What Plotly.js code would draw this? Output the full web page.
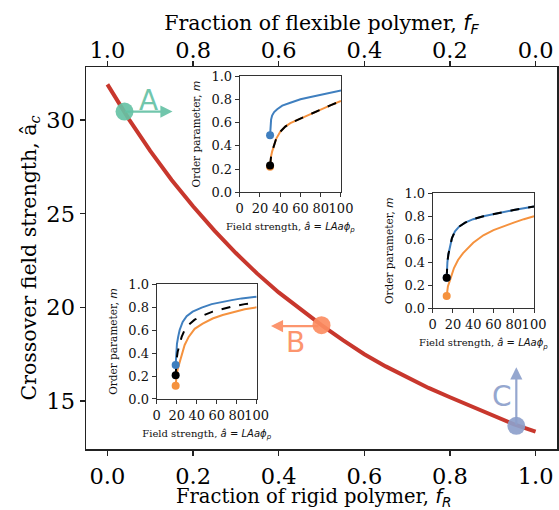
<!DOCTYPE html>
<html>
<head>
<meta charset="utf-8">
<script src="https://cdn.plot.ly/plotly-3.0.1.min.js"></script>
<style>html,body{margin:0;padding:0;background:#fff;}#chart{width:559px;height:510px;}</style>
</head>
<body>
<div id="chart"></div>
<script>
// Main curve: crossover field strength vs fraction of rigid polymer
const fR = [0, 0.05, 0.1, 0.15, 0.2, 0.25, 0.3, 0.35, 0.4, 0.45, 0.5, 0.55, 0.6, 0.65, 0.7, 0.75, 0.8, 0.85, 0.9, 0.95, 1.0];
const aC = [31.9, 30.05, 28.35, 26.8, 25.4, 24.1, 22.9, 21.8, 20.8, 19.9, 19.05, 18.25, 17.5, 16.85, 16.25, 15.7, 15.2, 14.7, 14.25, 13.75, 13.37];

// Highlighted points A, B, C
const ptLabels = ['A', 'B', 'C'];
const ptFR = [0.04, 0.5, 0.955];
const ptAC = [30.45, 19.05, 13.68];

// Inset A (top)
const aBlueX = [30, 30.2, 30.5, 31, 32, 34, 37, 42, 50, 60, 70, 80, 90, 100];
const aBlueY = [0.49, 0.55, 0.59, 0.625, 0.66, 0.69, 0.715, 0.745, 0.77, 0.8, 0.82, 0.84, 0.86, 0.875];
const aOrangeX = [30, 30.3, 31, 32, 33.5, 36, 40, 45, 50, 60, 70, 80, 90, 100];
const aOrangeY = [0.22, 0.27, 0.31, 0.35, 0.40, 0.46, 0.52, 0.565, 0.595, 0.635, 0.675, 0.71, 0.75, 0.785];
const aBlackX = aOrangeX;
const aBlackY = [0.23, 0.27, 0.31, 0.35, 0.40, 0.46, 0.52, 0.565, 0.595, 0.635, 0.675, 0.71, 0.75, 0.785];

// Inset B (left)
const bBlueX = [19, 19.2, 19.6, 20.3, 21.5, 23, 26, 30, 36, 45, 55, 65, 75, 85, 100];
const bBlueY = [0.296, 0.36, 0.42, 0.48, 0.54, 0.6, 0.67, 0.72, 0.76, 0.795, 0.825, 0.845, 0.86, 0.875, 0.89];
const bBlackX = [19, 19.3, 20, 21, 22.5, 25, 28, 32, 38, 46, 56, 66, 76, 88, 100];
const bBlackY = [0.206, 0.28, 0.35, 0.41, 0.47, 0.54, 0.6, 0.645, 0.69, 0.725, 0.76, 0.785, 0.805, 0.825, 0.84];
const bOrangeX = [19, 19.4, 20, 21, 22.5, 25, 28, 32, 38, 46, 56, 66, 76, 88, 100];
const bOrangeY = [0.116, 0.17, 0.21, 0.26, 0.31, 0.39, 0.47, 0.54, 0.61, 0.655, 0.70, 0.73, 0.755, 0.78, 0.797];

// Inset C (right)
const cBlueX = [13.8, 14, 14.5, 15.5, 17, 19, 22, 26, 32, 40, 50, 60, 70, 80, 90, 100];
const cBlueY = [0.266, 0.33, 0.4, 0.47, 0.54, 0.61, 0.67, 0.71, 0.745, 0.775, 0.8, 0.82, 0.84, 0.855, 0.87, 0.885];
const cBlackX = cBlueX;
const cBlackY = cBlueY;
const cOrangeX = [13.8, 14.2, 15, 16.5, 18.5, 21, 25, 30, 40, 50, 60, 70, 80, 90, 100];
const cOrangeY = [0.107, 0.15, 0.19, 0.23, 0.29, 0.35, 0.42, 0.48, 0.57, 0.635, 0.68, 0.715, 0.745, 0.775, 0.80];

const ticksMain = [0, 0.2, 0.4, 0.6, 0.8, 1.0];
const ticksY = [15, 20, 25, 30];
const ticksInsetX = [0, 20, 40, 60, 80, 100];
const ticksInsetY = [0, 0.2, 0.4, 0.6, 0.8, 1.0];

const RED = '#c8372d';
const SET2 = ['#66c2a5', '#fc8d62', '#8da0cb'];
const BLUE = '#3f7fbf';
const ORANGE = '#f5923e';

const traces = [];
traces.push({x: fR, y: aC, xaxis: 'x', yaxis: 'y', mode: 'lines', line: {color: RED, width: 4}, hoverinfo: 'skip'});
traces.push({x: fR.map(v => 1 - v), y: aC, xaxis: 'x2', yaxis: 'y', mode: 'markers', marker: {opacity: 0}, hoverinfo: 'skip'});
traces.push({x: ptFR, y: ptAC, xaxis: 'x', yaxis: 'y', mode: 'markers', marker: {color: SET2, size: 18, opacity: 0.92}, hoverinfo: 'skip'});

function inset(ax, series) {
  series.forEach(s => {
    traces.push({x: s.x, y: s.y, xaxis: 'x' + ax, yaxis: 'y' + ax, mode: 'lines',
      line: {color: s.c, width: 2, dash: s.dash || 'solid'}, hoverinfo: 'skip'});
  });
  series.forEach(s => {
    traces.push({x: [s.x[0]], y: [s.y[0]], xaxis: 'x' + ax, yaxis: 'y' + ax, mode: 'markers',
      marker: {color: s.c, size: 8}, hoverinfo: 'skip'});
  });
}
inset(3, [
  {x: aBlueX, y: aBlueY, c: BLUE},
  {x: aOrangeX, y: aOrangeY, c: ORANGE},
  {x: aBlackX, y: aBlackY, c: '#000', dash: 'dash'}
]);
inset(4, [
  {x: bBlueX, y: bBlueY, c: BLUE},
  {x: bOrangeX, y: bOrangeY, c: ORANGE},
  {x: bBlackX, y: bBlackY, c: '#000', dash: 'dash'}
]);
inset(5, [
  {x: cBlueX, y: cBlueY, c: BLUE},
  {x: cOrangeX, y: cOrangeY, c: ORANGE},
  {x: cBlackX, y: cBlackY, c: '#000', dash: 'dash'}
]);

const SERIF = 'DejaVu Serif';
const MATH = 'DejaVu Sans';

function insetAxes(dx, dy, anchorX, anchorY) {
  const common = {showgrid: false, zeroline: false, showline: true, mirror: true, linecolor: '#333', linewidth: 1,
    ticks: 'outside', ticklen: 4, tickwidth: 1, tickcolor: '#333', tickfont: {size: 13, family: SERIF, color: '#111'}, tickangle: 0};
  return [
    Object.assign({}, common, {domain: dx, anchor: anchorY, range: [0, 100], tickvals: ticksInsetX,
      title: {text: 'Field strength, <span style="font-family:' + MATH + '"><i>â</i> = <i>LAaϕ</i><sub><i>p</i></sub></span>', font: {size: 10, family: SERIF, color: '#111'}, standoff: 8}}),
    Object.assign({}, common, {domain: dy, anchor: anchorX, range: [0, 1], tickvals: ticksInsetY, tickformat: '.1f',
      title: {text: 'Order parameter, <span style="font-family:' + MATH + '"><i>m</i></span>', font: {size: 10.5, family: SERIF, color: '#111'}, standoff: 8}})
  ];
}
const [x3, y3] = insetAxes([0.3263, 0.5414], [0.672, 0.9764], 'x3', 'y3');
const [x4, y4] = insetAxes([0.150, 0.3624], [0.1309, 0.4319], 'x4', 'y4');
const [x5, y5] = insetAxes([0.7361, 0.9512], [0.3683, 0.6694], 'x5', 'y5');

const arrowSpecs = [
  {tipX: 0.152, tipY: 30.45, ax: -49, ay: 0, tx: 0.095, ty: 31.05},
  {tipX: 0.382, tipY: 19.0, ax: 49, ay: 0, tx: 0.44, ty: 18.1},
  {tipX: 0.955, tipY: 16.8, ax: 0, ay: 59, tx: 0.921, ty: 15.25}
];
const annotations = [];
arrowSpecs.forEach((a, i) => {
  annotations.push({x: a.tipX, y: a.tipY, xref: 'x', yref: 'y', ax: a.ax, ay: a.ay, axref: 'pixel', ayref: 'pixel',
    text: '', showarrow: true, arrowhead: 2, arrowsize: 1.1, arrowwidth: 2.2, arrowcolor: SET2[i], opacity: 0.92});
  annotations.push({x: a.tx, y: a.ty, xref: 'x', yref: 'y', text: ptLabels[i], showarrow: false,
    font: {size: 28, family: MATH, color: SET2[i]}, opacity: 0.92});
});
// Bottom axis title (placed as annotation so it can sit lower than the margin constraint allows)
annotations.push({x: 0.485, y: -0.127, xref: 'paper', yref: 'paper', xanchor: 'center', yanchor: 'middle',
  text: 'Fraction of rigid polymer, <span style="font-family:' + MATH + '"><i>f</i><sub><i>R</i></sub></span>',
  showarrow: false, borderpad: 0, font: {size: 19.5, family: SERIF, color: '#000'}});

const layout = {
  width: 559, height: 510,
  margin: {l: 86, r: 2, t: 67, b: 61},
  paper_bgcolor: '#fff', plot_bgcolor: '#fff',
  showlegend: false,
  font: {family: SERIF, color: '#000'},
  xaxis: {domain: [0, 1], anchor: 'y', range: [-0.05, 1.05], tickvals: ticksMain, tickformat: '.1f',
    showgrid: false, zeroline: false, showline: true, mirror: true, linecolor: '#222', linewidth: 1.5,
    ticks: 'outside', ticklen: 5, tickwidth: 1.2, tickcolor: '#222', tickfont: {size: 22.5, family: SERIF},
    ticklabelstandoff: 1},
  xaxis2: {overlaying: 'x', side: 'top', anchor: 'y', range: [1.05, -0.05], tickvals: ticksMain, tickformat: '.1f',
    showgrid: false, zeroline: false, showline: false,
    ticks: 'outside', ticklen: 5, tickwidth: 1.2, tickcolor: '#222', tickfont: {size: 22.5, family: SERIF},
    ticklabelstandoff: -6,
    title: {text: 'Fraction of flexible polymer, <span style="font-family:' + MATH + '"><i>f</i><sub><i>F</i></sub></span>', font: {size: 20.5, family: SERIF}, standoff: 0}},
  yaxis: {domain: [0, 1], anchor: 'x', range: [12.44, 32.83], tickvals: ticksY,
    showgrid: false, zeroline: false, showline: true, mirror: true, linecolor: '#222', linewidth: 1.5,
    ticks: 'outside', ticklen: 5, tickwidth: 1.2, tickcolor: '#222', tickfont: {size: 22.5, family: SERIF},
    title: {text: 'Crossover field strength, â<sub><i>c</i></sub>', font: {size: 20.5, family: SERIF}, standoff: 4}},
  xaxis3: x3, yaxis3: y3,
  xaxis4: x4, yaxis4: y4,
  xaxis5: x5, yaxis5: y5,
  annotations: annotations
};

Plotly.newPlot('chart', traces, layout, {staticPlot: true, displayModeBar: false});
</script>
</body>
</html>
